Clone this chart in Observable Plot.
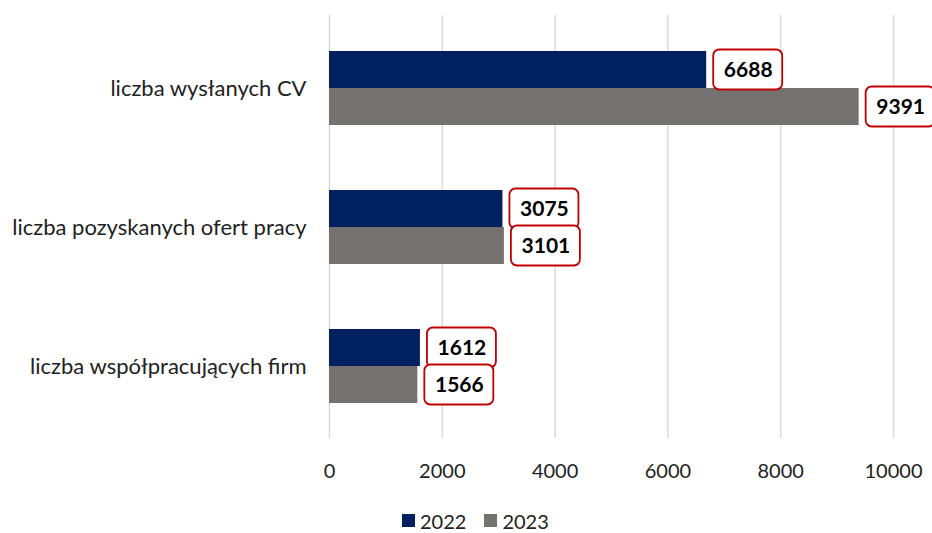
<!DOCTYPE html>
<html>
<head>
<meta charset="utf-8">
<script src="https://cdn.jsdelivr.net/npm/d3@7"></script>
<script src="https://cdn.jsdelivr.net/npm/@observablehq/plot@0.6"></script>
<style>
  html, body { margin: 0; padding: 0; background: #fff; }
  #chart { width: 932px; font-family: Lato, "Open Sans", sans-serif; }
  .legend { display: flex; align-items: center; height: 33px; padding-left: 402px; font-size: 20px; line-height: 22px; color: #222; }
  .legend .item { display: flex; align-items: center; margin-right: 18px; position: relative; top: 4px; }
  .legend .sw { width: 13px; height: 13px; display: inline-block; margin-right: 5px; }
</style>
</head>
<body>
<div id="chart"></div>
<script>
const categories = ["liczba wysłanych CV", "liczba pozyskanych ofert pracy", "liczba współpracujących firm"];
const years = ["2022", "2023"];
const values2022 = [6688, 3075, 1612];
const values2023 = [9391, 3101, 1566];
const xTicks = [0, 2000, 4000, 6000, 8000, 10000];
const colors = ["#002060", "#767171"];

const d2022 = categories.map((c, i) => ({category: c, year: years[0], value: values2022[i]}));
const d2023 = categories.map((c, i) => ({category: c, year: years[1], value: values2023[i]}));

const half = 37;
const boxW = 69;
const gap = 7;

const plot = Plot.plot({
  width: 932,
  height: 500,
  marginLeft: 329,
  marginRight: 39,
  marginTop: 15,
  marginBottom: 62,
  style: {fontFamily: "Lato, 'Open Sans', sans-serif", fontSize: "20px", color: "#222", background: "#fff"},
  x: {domain: [0, 10000], ticks: xTicks, tickSize: 0, tickPadding: 25, label: null, tickFormat: d => String(d)},
  y: {domain: categories, paddingInner: 0.47, paddingOuter: 0.25, tickSize: 0, tickPadding: 23, label: null},
  marks: [
    Plot.ruleX(xTicks, {stroke: "#d9d9d9", strokeWidth: 1.5}),
    Plot.barX(d2022, {x: "value", y: "category", fill: colors[0], insetBottom: half}),
    Plot.barX(d2023, {x: "value", y: "category", fill: colors[1], insetTop: half}),
    Plot.barX(d2022, {x1: "value", x2: "value", y: "category", dx: gap, insetLeft: 0, insetRight: -boxW,
      insetTop: -1.5, insetBottom: half - 1.5, fill: "white", stroke: "#c00000", strokeWidth: 1.8, rx: 6}),
    Plot.barX(d2023, {x1: "value", x2: "value", y: "category", dx: gap, insetLeft: 0, insetRight: -boxW,
      insetTop: half - 1.5, insetBottom: -1.5, fill: "white", stroke: "#c00000", strokeWidth: 1.8, rx: 6}),
    Plot.text(d2022, {x: "value", y: "category", text: d => String(d.value), dx: gap + boxW / 2, dy: -half / 2,
      fontWeight: "bold", fontSize: 21, fill: "#000", textAnchor: "middle"}),
    Plot.text(d2023, {x: "value", y: "category", text: d => String(d.value), dx: gap + boxW / 2, dy: half / 2,
      fontWeight: "bold", fontSize: 21, fill: "#000", textAnchor: "middle"})
  ]
});

d3.select(plot)
  .selectAll('g[aria-label="y-axis tick label"] text, g[aria-label="y-axis"] text')
  .style("font-size", "22px");

const chart = document.getElementById("chart");
chart.appendChild(plot);

const legend = document.createElement("div");
legend.className = "legend";
years.forEach((y, i) => {
  const item = document.createElement("span");
  item.className = "item";
  const sw = document.createElement("span");
  sw.className = "sw";
  sw.style.background = colors[i];
  item.appendChild(sw);
  item.appendChild(document.createTextNode(y));
  legend.appendChild(item);
});
chart.appendChild(legend);
</script>
</body>
</html>
